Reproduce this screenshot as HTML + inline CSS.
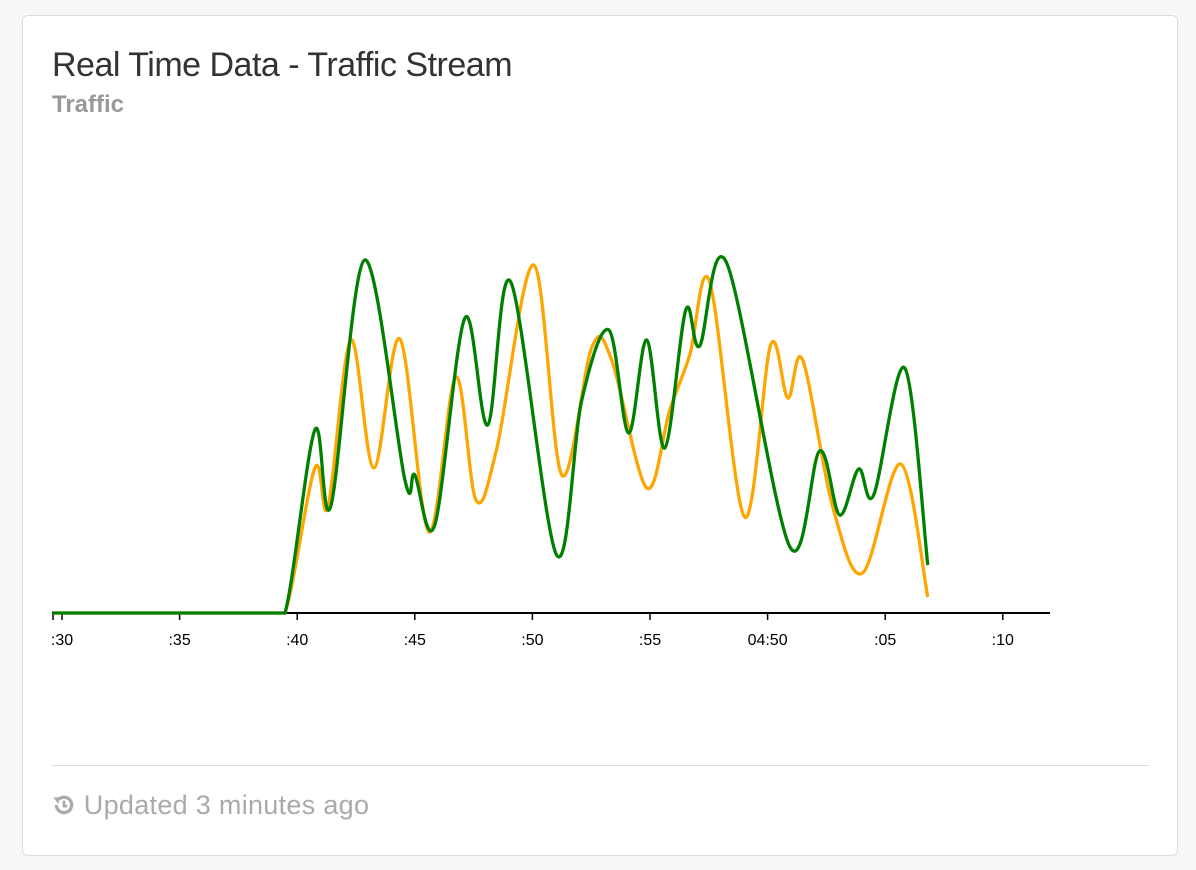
<!DOCTYPE html>
<html><head><meta charset="utf-8"><style>
body{margin:0;background:#f7f7f7;width:1196px;height:870px;overflow:hidden;font-family:"Liberation Sans",sans-serif}
.card{position:absolute;left:22px;top:15px;width:1154px;height:839px;background:#fff;border:1px solid #ddd;border-radius:6px}
.title{position:absolute;left:29px;top:30px;font-size:34px;color:#333;font-weight:300;letter-spacing:-0.5px}
.sub{position:absolute;left:29px;top:75px;font-size:24px;color:#999;font-weight:bold}
.sep{position:absolute;left:29px;top:749px;width:1097px;height:1px;background:#ddd}
.foot{position:absolute;left:29px;top:774px;font-size:27px;color:#aaa;letter-spacing:0.3px}
svg{position:absolute;left:0;top:0}
</style></head><body>
<div class="card">
<div class="title">Real Time Data - Traffic Stream</div>
<div class="sub">Traffic</div>
<div class="sep"></div>
<div class="foot"><svg style="position:relative;display:inline-block;vertical-align:-3px" width="24" height="24" viewBox="0 0 22 22"><path d="M4 11a7 7 0 1 0 2-5" fill="none" stroke="#aaa" stroke-width="3"/><path d="M1 4l6 0-1 6z" fill="#aaa"/><path d="M11 7v5h3" fill="none" stroke="#aaa" stroke-width="2.5"/></svg> Updated 3 minutes ago</div>
</div>
<svg id="chart" width="1196" height="870">
<defs><clipPath id="clip"><rect x="52" y="0" width="1100" height="870"/></clipPath></defs>
<g id="plot" clip-path="url(#clip)"></g>
</svg>
<script>
const tickLabels=[":30",":35",":40",":45",":50",":55","04:50",":05",":10"];
const orangeT=[-0.43,8.5,9.48,10.75,11.31,12.28,13.26,14.37,15.60,16.74,17.60,18.49,20.06,21.25,22.53,23.37,24.86,25.84,26.69,27.54,29.02,30.13,30.86,31.49,32.77,34.04,35.66,36.81];
const orangeV=[0,0,0,145,106,273,145,274,81,236,113,165,348,138,266,253,125,203,258,331,96,268,215,253,106,40,149,16];
const greenT=[-0.43,8.5,9.48,10.75,11.43,12.87,14.58,15.00,15.85,17.13,18.10,19.08,21.03,22.10,23.25,24.09,24.86,25.63,26.52,27.11,28.26,30.93,32.21,33.06,33.87,34.51,35.83,36.81];
const greenV=[0,0,0,183,107,353,133,138,88,295,188,331,58,213,283,180,273,165,303,267,350,67,162,98,144,118,245,48];
const NS="http://www.w3.org/2000/svg";
const g=document.getElementById('plot');
const xs=t=>62+t*23.52;
const ys=v=>613-v;
function path(T,V){
 const p=T.map((t,i)=>[xs(t),ys(V[i])]);
 let d="M"+p[0][0]+","+p[0][1];
 for(let i=0;i<p.length-1;i++){
  const p0=p[Math.max(0,i-1)],p1=p[i],p2=p[i+1],p3=p[Math.min(p.length-1,i+2)];
  const c1=[p1[0]+(p2[0]-p0[0])/6,Math.min(613,p1[1]+(p2[1]-p0[1])/6)];
  const c2=[p2[0]-(p3[0]-p1[0])/6,Math.min(613,p2[1]-(p3[1]-p1[1])/6)];
  d+="C"+c1+" "+c2+" "+p2;
 }
 return d;
}
function addLine(T,V,color,name){
 const el=document.createElementNS(NS,'path');
 el.setAttribute('d',path(T,V));
 el.setAttribute('fill','none');el.setAttribute('stroke',color);el.setAttribute('stroke-width','3.3');
 
 
 g.appendChild(el);
}
const ax=document.createElementNS(NS,'line');
ax.setAttribute('x1',52);ax.setAttribute('x2',1050);ax.setAttribute('y1',613);ax.setAttribute('y2',613);
ax.setAttribute('stroke','#000');ax.setAttribute('stroke-width','2');


g.appendChild(ax);
const edge=document.createElementNS(NS,'line');
edge.setAttribute('x1',53);edge.setAttribute('x2',53);edge.setAttribute('y1',613);edge.setAttribute('y2',620);
edge.setAttribute('stroke','#000');edge.setAttribute('stroke-width','1.5');


g.appendChild(edge);
tickLabels.forEach((lab,i)=>{
 const x=xs(i*5);
 const tk=document.createElementNS(NS,'line');
 tk.setAttribute('x1',x);tk.setAttribute('x2',x);tk.setAttribute('y1',613);tk.setAttribute('y2',620);
 tk.setAttribute('stroke','#000');tk.setAttribute('stroke-width','1.5');
 
 
 g.appendChild(tk);
 const tx=document.createElementNS(NS,'text');
 tx.setAttribute('x',x);tx.setAttribute('y',645);
 tx.setAttribute('text-anchor','middle');
 tx.setAttribute('font-size','16');tx.setAttribute('font-family','Liberation Sans, sans-serif');
 tx.textContent=lab;
 
 
 g.appendChild(tx);
});
addLine(orangeT,orangeV,'orange','series-orange');
addLine(greenT,greenV,'green','series-green');
</script>
</body></html>
